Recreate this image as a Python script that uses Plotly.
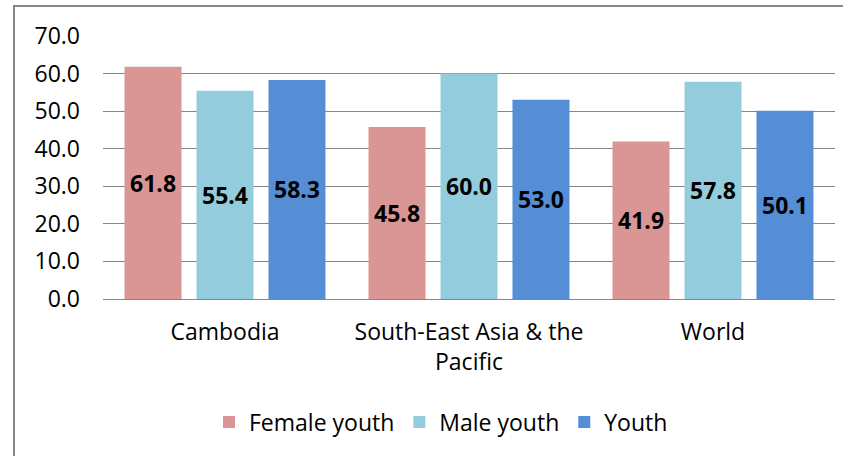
import plotly.graph_objects as go

categories = ["Cambodia", "South-East Asia & the<br>Pacific", "World"]
series_names = ["Female youth", "Male youth", "Youth"]
female = [61.8, 45.8, 41.9]
male = [55.4, 60.0, 57.8]
youth = [58.3, 53.0, 50.1]
colors = ["#D99694", "#93CDDD", "#558ED5"]
y_ticks = [0, 10, 20, 30, 40, 50, 60, 70]

FONT = "Open Sans"
FS = 23
fig = go.Figure()
for name, vals, col in zip(series_names, [female, male, youth], colors):
    fig.add_trace(go.Bar(
        x=categories, y=vals, name=name, marker=dict(color=col, line=dict(width=0)),
        texttemplate="%{y:.1f}", textposition="inside", insidetextanchor="middle",
        textangle=0, constraintext="none",
        textfont=dict(family=FONT, size=FS, color="black", weight="bold"),
    ))

L, R, T, B = 103, 8, 36, 157
W, H = 843, 456
pw, ph = W - L - R, H - T - B

fig.update_layout(
    width=W, height=H, barmode="group", bargap=0.115, bargroupgap=0.208,
    margin=dict(l=L, r=R, t=T, b=B, pad=0),
    paper_bgcolor="white", plot_bgcolor="white",
    font=dict(family=FONT, size=FS, color="black"),
    showlegend=True,
    legend=dict(orientation="h", x=(441 - L) / pw, xanchor="center",
                y=(H - B - 422) / ph, yanchor="middle",
                font=dict(family=FONT, size=FS, color="black"),
                itemwidth=30, tracegroupgap=0),
    xaxis=dict(showgrid=False, ticks="", showline=False, ticklabelstandoff=17,
               tickfont=dict(family=FONT, size=FS, color="black")),
    yaxis=dict(range=[0, 70], tickvals=y_ticks, tickformat=".1f",
               showgrid=True, gridcolor="#868686", gridwidth=1.3,
               zeroline=True, zerolinecolor="#868686", zerolinewidth=1.3,
               showline=False, ticks="", ticklabelstandoff=22,
               tickfont=dict(family=FONT, size=FS, color="black")),
    shapes=[dict(type="rect", xref="paper", yref="paper",
                 x0=(14 - L) / pw, x1=(W + 20 - L) / pw,
                 y0=(H - B - (H + 20)) / ph, y1=(H - B - 6) / ph,
                 line=dict(color="#868686", width=2), fillcolor="rgba(0,0,0,0)",
                 layer="below")],
)

fig.write_html("out.html", config={"displayModeBar": False},
               post_script="document.body.style.margin='0';document.body.style.overflow='hidden';")
